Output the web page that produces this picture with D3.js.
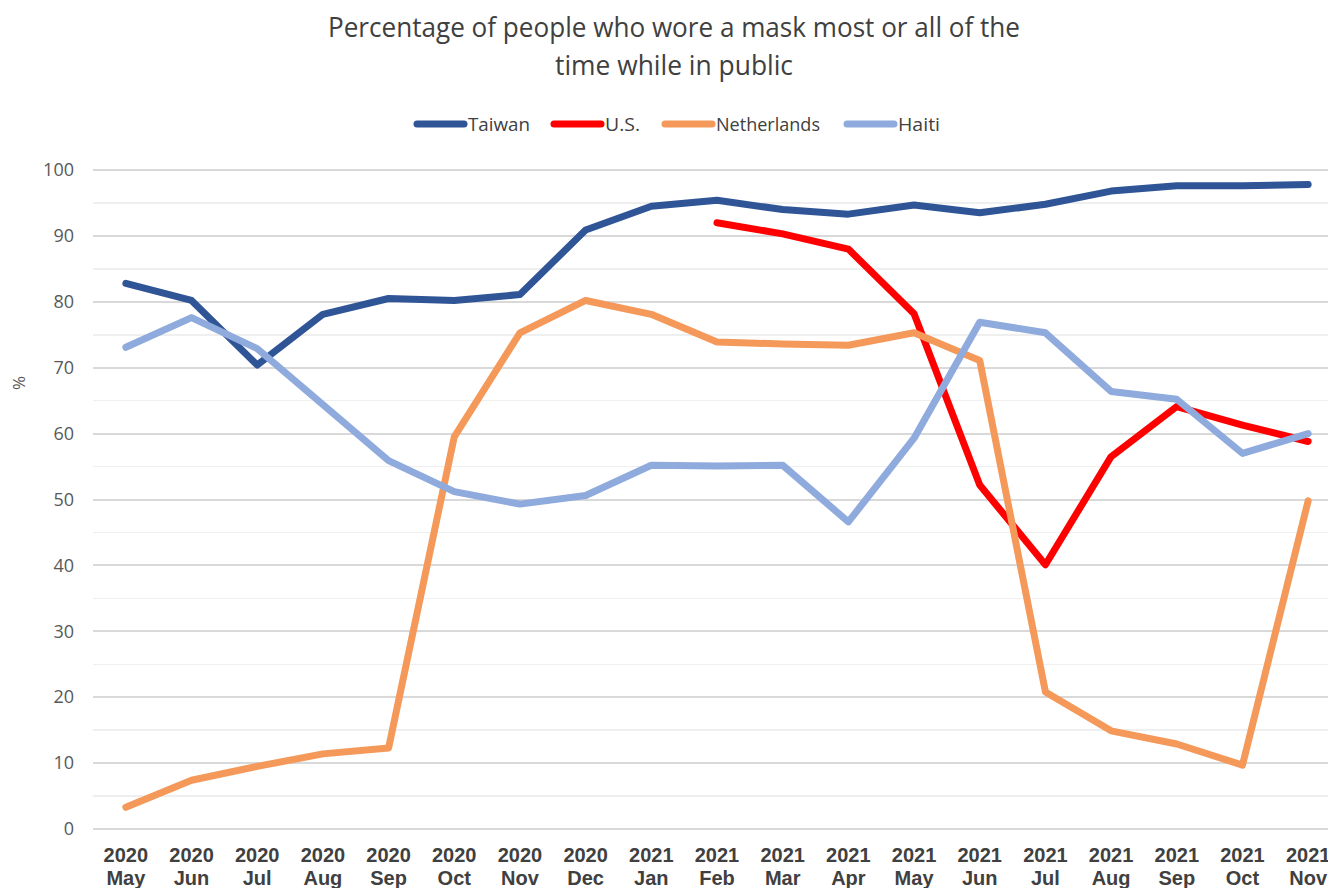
<html>
<head>
<script src="https://d3js.org/d3.v7.min.js"></script>
<style>
  body { margin: 0; background: white; }
  .grid line { shape-rendering: crispEdges; }
</style>
</head>
<body>
<svg id="chart" width="1328" height="888"></svg>
<script>
// data
const years = ["2020","2020","2020","2020","2020","2020","2020","2020","2021","2021","2021","2021","2021","2021","2021","2021","2021","2021","2021"];
const months = ["May","Jun","Jul","Aug","Sep","Oct","Nov","Dec","Jan","Feb","Mar","Apr","May","Jun","Jul","Aug","Sep","Oct","Nov"];
const taiwan = [82.8, 80.2, 70.4, 78.1, 80.5, 80.2, 81.1, 90.9, 94.5, 95.4, 94.0, 93.3, 94.7, 93.5, 94.8, 96.8, 97.6, 97.6, 97.8];
const us = [null, null, null, null, null, null, null, null, null, 92.0, 90.3, 88.0, 78.2, 52.2, 40.1, 56.5, 64.1, 61.3, 58.8];
const netherlands = [3.3, 7.4, 9.5, 11.4, 12.3, 59.5, 75.3, 80.2, 78.1, 73.9, 73.6, 73.4, 75.3, 71.1, 20.8, 14.9, 12.9, 9.7, 49.8];
const haiti = [73.1, 77.6, 72.9, 64.4, 55.9, 51.2, 49.3, 50.6, 55.2, 55.1, 55.2, 46.6, 59.3, 76.9, 75.3, 66.4, 65.2, 57.0, 60.0];
const yTicks = [0, 10, 20, 30, 40, 50, 60, 70, 80, 90, 100];

const series = [
  { name: "Taiwan", values: taiwan, color: "#2F5597" },
  { name: "U.S.", values: us, color: "#FF0000" },
  { name: "Netherlands", values: netherlands, color: "#F4995A" },
  { name: "Haiti", values: haiti, color: "#8FAADC" }
];

const svg = d3.select("svg#chart");
const idx = d3.range(months.length);

const x = d3.scalePoint().domain(idx).range([93, 1341]).padding(0.5);
const y = d3.scaleLinear().domain([0, 100]).range([829, 170]);

// title - the original font is narrow, so squeeze it with textLength
const titleLines = ["Percentage of people who wore a mask most or all of the", "time while in public"];
const titleWidth = [692, 238];
svg.selectAll("text.title").data(titleLines).join("text").attr("class", "title")
   .attr("x", 674).attr("y", (d, i) => 37 + i * 38)
   .attr("text-anchor", "middle")
   .attr("textLength", (d, i) => titleWidth[i])
   .attr("lengthAdjust", "spacingAndGlyphs")
   .style("font-family", "'Open Sans', sans-serif")
   .style("font-size", "27px").style("fill", "#404040")
   .text(d => d);

// gridlines, minor then major
const grid = svg.append("g").attr("class", "grid");
grid.selectAll("line.minor").data(d3.range(5, 100, 10))
    .join("line").attr("class", "minor")
    .attr("x1", 93).attr("x2", 1328)
    .attr("y1", d => y(d)).attr("y2", d => y(d))
    .attr("stroke", "#efefef").attr("stroke-width", 1.5);
grid.selectAll("line.major").data(yTicks)
    .join("line").attr("class", "major")
    .attr("x1", 93).attr("x2", 1328)
    .attr("y1", d => y(d)).attr("y2", d => y(d))
    .attr("stroke", "#d9d9d9").attr("stroke-width", 2);

// y axis labels
const yAxis = d3.axisLeft(y).tickValues(yTicks).tickSize(0).tickPadding(0);
const ya = svg.append("g").attr("transform", "translate(74,0)").call(yAxis);
ya.select(".domain").remove();
ya.selectAll("text")
  .style("font-family", "'Open Sans', sans-serif")
  .style("font-size", "18px").style("fill", "#595959");

svg.append("text")
   .attr("transform", "translate(25,383) rotate(-90)")
   .attr("text-anchor", "middle")
   .style("font-family", "'Open Sans', sans-serif")
   .style("font-size", "17px").style("fill", "#595959")
   .text("%");

// x axis labels, two lines (cut at the bottom like the original)
const xl = svg.append("g");
xl.selectAll("text.yr").data(idx).join("text").attr("class", "yr")
  .attr("x", d => x(d)).attr("y", 862)
  .attr("text-anchor", "middle")
  .style("font-family", "'Liberation Sans', Arial, sans-serif")
  .style("font-weight", "bold").style("font-size", "20px").style("fill", "#404040")
  .text(d => years[d]);
xl.selectAll("text.mo").data(idx).join("text").attr("class", "mo")
  .attr("x", d => x(d)).attr("y", 885)
  .attr("text-anchor", "middle")
  .style("font-family", "'Liberation Sans', Arial, sans-serif")
  .style("font-weight", "bold").style("font-size", "20px").style("fill", "#404040")
  .text(d => months[d]);

// lines
const line = d3.line()
  .defined(d => d.v != null)
  .x(d => x(d.i))
  .y(d => y(d.v));

svg.append("g").selectAll("path").data(series)
   .join("path")
   .attr("d", s => line(s.values.map((v, i) => ({ i: i, v: v }))))
   .attr("fill", "none")
   .attr("stroke", s => s.color)
   .attr("stroke-width", 7)
   .attr("stroke-linejoin", "round")
   .attr("stroke-linecap", "round");

// legend
const legendX = [415, 552, 663, 845];
const legendTextW = [62, 35, 104, 42];
const lg = svg.append("g").selectAll("g").data(series).join("g")
  .attr("transform", (s, i) => `translate(${legendX[i]},124)`);
lg.append("line").attr("x1", 2).attr("x2", 49).attr("y1", 0).attr("y2", 0)
  .attr("stroke", s => s.color).attr("stroke-width", 7).attr("stroke-linecap", "round");
lg.append("text").attr("x", 53).attr("y", 7)
  .attr("textLength", (s, i) => legendTextW[i])
  .attr("lengthAdjust", "spacingAndGlyphs")
  .style("font-family", "'Open Sans', sans-serif")
  .style("font-size", "18px").style("fill", "#404040")
  .text(s => s.name);
</script>
</body>
</html>
